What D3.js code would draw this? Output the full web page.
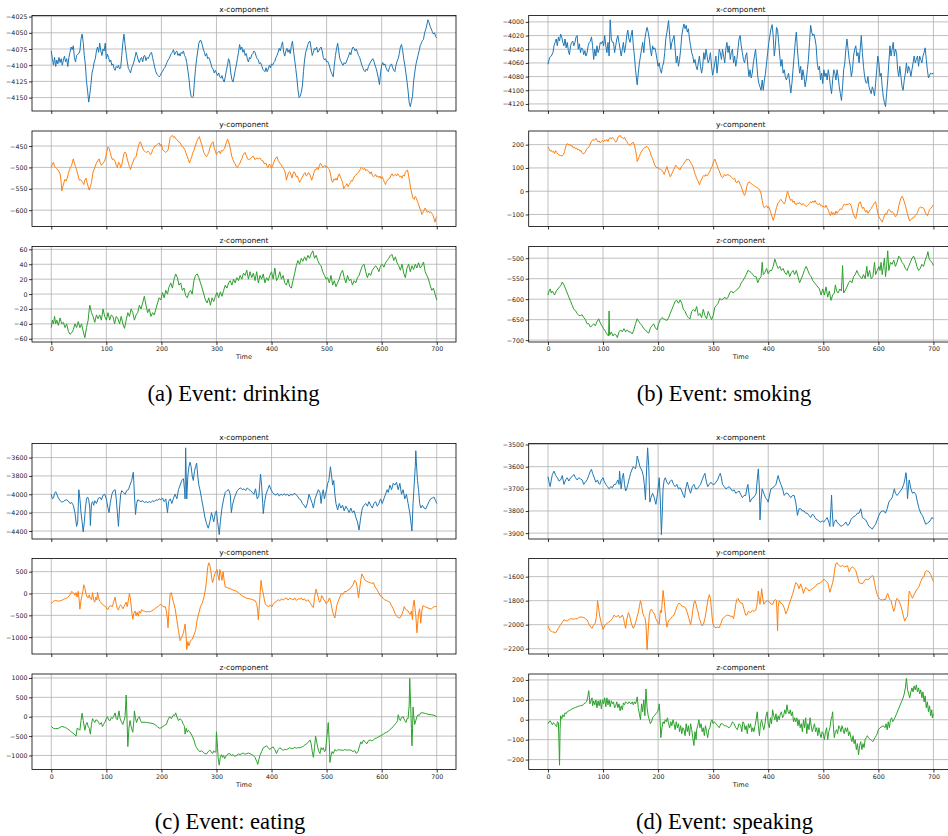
<!DOCTYPE html>
<html>
<head>
<meta charset="utf-8">
<script src="https://cdn.jsdelivr.net/npm/d3@7"></script>
<style>
  body { margin: 0; background: #fff; }
  svg { display: block; }
</style>
</head>
<body>
<svg id="fig" width="948" height="836"></svg>
<script>
// ---- tick values -------------------------------------------------------
const timeTicks = [0, 100, 200, 300, 400, 500, 600, 700];
const ticksDrinkX = [-4150, -4125, -4100, -4075, -4050, -4025];
const ticksDrinkY = [-600, -550, -500, -450];
const ticksDrinkZ = [-60, -40, -20, 0, 20, 40, 60];
const ticksSmokeX = [-4120, -4100, -4080, -4060, -4040, -4020, -4000];
const ticksSmokeY = [-100, 0, 100, 200];
const ticksSmokeZ = [-700, -650, -600, -550, -500];
const ticksEatX = [-4400, -4200, -4000, -3800, -3600];
const ticksEatY = [-1000, -500, 0, 500];
const ticksEatZ = [-1000, -500, 0, 500, 1000];
const ticksSpeakX = [-3900, -3800, -3700, -3600, -3500];
const ticksSpeakY = [-2200, -2000, -1800, -1600];
const ticksSpeakZ = [-200, -100, 0, 100, 200];

// ---- series: [time, value] -------------------------------------------
const drinkingX = [[0,-4078],[2,-4090],[4,-4100],[6,-4088],[8,-4102],[10,-4092],[12,-4098],[14,-4088],[16,-4096],[18,-4090],[20,-4100],[22,-4092],[24,-4086],[26,-4095],[28,-4090],[30,-4102],[32,-4088],[34,-4080],[36,-4072],[38,-4076],[40,-4070],[42,-4088],[44,-4095],[46,-4085],[48,-4083],[50,-4082],[52,-4078],[54,-4060],[56,-4052],[58,-4065],[60,-4085],[62,-4100],[64,-4125],[66,-4140],[68,-4157],[70,-4145],[72,-4130],[74,-4112],[76,-4105],[78,-4095],[80,-4090],[82,-4078],[84,-4072],[86,-4080],[88,-4066],[90,-4078],[92,-4085],[94,-4075],[96,-4078],[98,-4066],[100,-4090],[102,-4083],[104,-4088],[106,-4095],[108,-4092],[110,-4100],[112,-4098],[114,-4105],[116,-4108],[118,-4102],[120,-4104],[122,-4100],[124,-4106],[126,-4104],[128,-4085],[130,-4065],[132,-4052],[134,-4068],[136,-4082],[138,-4095],[140,-4105],[142,-4108],[144,-4112],[146,-4104],[148,-4100],[150,-4095],[152,-4088],[154,-4080],[156,-4085],[158,-4092],[160,-4096],[162,-4090],[164,-4088],[166,-4095],[168,-4086],[170,-4085],[172,-4093],[174,-4088],[176,-4090],[178,-4086],[180,-4082],[182,-4080],[184,-4088],[186,-4096],[188,-4104],[190,-4110],[192,-4114],[194,-4116],[196,-4118],[198,-4116],[200,-4112],[202,-4110],[204,-4106],[206,-4104],[208,-4100],[210,-4096],[212,-4092],[214,-4090],[216,-4086],[218,-4082],[220,-4080],[222,-4076],[224,-4084],[226,-4080],[228,-4078],[230,-4085],[232,-4082],[234,-4086],[236,-4080],[238,-4082],[240,-4078],[242,-4085],[244,-4088],[246,-4096],[248,-4108],[250,-4120],[252,-4138],[254,-4148],[256,-4150],[258,-4148],[260,-4125],[262,-4105],[264,-4090],[266,-4078],[268,-4066],[270,-4062],[272,-4062],[274,-4068],[276,-4075],[278,-4080],[280,-4086],[282,-4082],[284,-4090],[286,-4088],[288,-4092],[290,-4098],[292,-4104],[294,-4106],[296,-4112],[298,-4108],[300,-4112],[302,-4116],[304,-4112],[306,-4118],[308,-4120],[310,-4116],[312,-4122],[314,-4126],[316,-4118],[318,-4108],[320,-4100],[322,-4090],[324,-4095],[326,-4112],[328,-4122],[330,-4126],[332,-4118],[334,-4108],[336,-4100],[338,-4090],[340,-4080],[342,-4068],[344,-4076],[346,-4072],[348,-4080],[350,-4076],[352,-4085],[354,-4082],[356,-4090],[358,-4095],[360,-4088],[362,-4090],[364,-4084],[366,-4082],[368,-4078],[370,-4080],[372,-4086],[374,-4090],[376,-4092],[378,-4098],[380,-4096],[382,-4100],[384,-4106],[386,-4108],[388,-4110],[390,-4104],[392,-4110],[394,-4106],[396,-4100],[398,-4104],[400,-4098],[402,-4100],[404,-4096],[406,-4094],[408,-4088],[410,-4085],[412,-4080],[414,-4074],[416,-4078],[418,-4070],[420,-4064],[422,-4080],[424,-4086],[426,-4078],[428,-4074],[430,-4080],[432,-4076],[434,-4082],[436,-4070],[438,-4063],[440,-4078],[442,-4092],[444,-4105],[446,-4120],[448,-4138],[450,-4150],[452,-4148],[454,-4142],[456,-4132],[458,-4110],[460,-4092],[462,-4080],[464,-4075],[466,-4068],[468,-4064],[470,-4063],[472,-4075],[474,-4085],[476,-4080],[478,-4074],[480,-4076],[482,-4072],[484,-4080],[486,-4078],[488,-4074],[490,-4072],[492,-4078],[494,-4088],[496,-4092],[498,-4090],[500,-4095],[502,-4094],[504,-4098],[506,-4104],[508,-4110],[510,-4114],[512,-4118],[514,-4100],[516,-4085],[518,-4075],[520,-4066],[522,-4078],[524,-4090],[526,-4094],[528,-4098],[530,-4100],[532,-4096],[534,-4098],[536,-4095],[538,-4090],[540,-4086],[542,-4080],[544,-4084],[546,-4076],[548,-4072],[550,-4074],[552,-4078],[554,-4075],[556,-4080],[558,-4085],[560,-4088],[562,-4094],[564,-4100],[566,-4104],[568,-4108],[570,-4110],[572,-4106],[574,-4108],[576,-4102],[578,-4098],[580,-4095],[582,-4092],[584,-4090],[586,-4094],[588,-4100],[590,-4105],[592,-4112],[594,-4120],[596,-4130],[598,-4112],[600,-4100],[602,-4096],[604,-4100],[606,-4098],[608,-4104],[610,-4108],[612,-4110],[614,-4104],[616,-4100],[618,-4098],[620,-4104],[622,-4108],[624,-4110],[626,-4100],[628,-4094],[630,-4090],[632,-4082],[634,-4072],[636,-4068],[638,-4076],[640,-4090],[642,-4100],[644,-4112],[646,-4125],[648,-4140],[650,-4158],[652,-4164],[654,-4156],[656,-4148],[658,-4125],[660,-4112],[662,-4100],[664,-4092],[666,-4085],[668,-4078],[670,-4070],[672,-4066],[674,-4062],[676,-4060],[678,-4050],[680,-4045],[682,-4038],[684,-4030],[686,-4034],[688,-4040],[690,-4044],[692,-4048],[694,-4052],[696,-4050],[698,-4056],[700,-4058]];

const drinkingY = [[0,-500],[2,-492],[4,-488],[6,-498],[8,-500],[10,-503],[13,-507],[16,-515],[18,-535],[19,-555],[21,-545],[23,-535],[25,-528],[27,-532],[29,-525],[31,-515],[33,-505],[35,-500],[37,-495],[39,-485],[40,-480],[42,-490],[44,-498],[47,-510],[49,-520],[51,-530],[53,-528],[55,-532],[57,-535],[59,-540],[61,-530],[63,-525],[65,-535],[67,-545],[69,-553],[71,-545],[73,-535],[76,-510],[79,-500],[82,-490],[85,-483],[87,-480],[89,-490],[91,-495],[94,-490],[97,-485],[99,-475],[101,-462],[103,-452],[105,-455],[107,-465],[109,-475],[111,-482],[113,-480],[116,-486],[118,-495],[120,-500],[122,-488],[124,-490],[126,-500],[128,-495],[130,-480],[132,-468],[134,-464],[136,-468],[138,-480],[140,-490],[142,-498],[144,-505],[146,-495],[149,-485],[151,-478],[154,-475],[156,-462],[158,-452],[160,-443],[162,-440],[164,-448],[166,-455],[168,-460],[171,-464],[173,-465],[176,-462],[178,-465],[180,-470],[182,-468],[184,-458],[186,-455],[188,-450],[191,-448],[193,-446],[196,-443],[198,-450],[200,-445],[202,-458],[205,-462],[208,-465],[210,-462],[212,-460],[214,-445],[216,-430],[218,-427],[220,-425],[222,-430],[224,-428],[226,-433],[229,-436],[231,-440],[234,-442],[237,-450],[240,-453],[243,-460],[245,-468],[247,-475],[249,-482],[251,-490],[253,-482],[255,-475],[257,-466],[259,-460],[262,-448],[264,-440],[267,-432],[269,-428],[271,-438],[273,-445],[275,-455],[277,-465],[279,-470],[282,-475],[284,-470],[286,-465],[288,-455],[290,-448],[292,-442],[294,-440],[296,-455],[298,-462],[300,-470],[302,-465],[305,-462],[307,-468],[309,-460],[311,-462],[313,-458],[315,-455],[317,-445],[319,-438],[320,-434],[322,-440],[324,-450],[326,-462],[328,-475],[330,-482],[332,-488],[334,-492],[336,-498],[338,-500],[340,-495],[342,-492],[344,-485],[346,-480],[348,-472],[350,-468],[352,-465],[354,-472],[356,-478],[358,-482],[361,-480],[364,-476],[367,-474],[370,-482],[373,-478],[376,-480],[379,-478],[382,-484],[385,-485],[387,-492],[390,-490],[392,-498],[394,-500],[396,-492],[398,-495],[400,-502],[402,-496],[404,-488],[406,-482],[408,-478],[410,-475],[412,-484],[415,-490],[418,-495],[420,-500],[422,-503],[424,-508],[426,-520],[427,-530],[429,-520],[431,-512],[433,-510],[435,-516],[437,-525],[439,-515],[441,-510],[443,-514],[445,-522],[447,-520],[449,-528],[451,-535],[453,-530],[455,-525],[457,-520],[459,-515],[461,-512],[463,-520],[465,-518],[467,-512],[469,-515],[471,-522],[473,-530],[475,-522],[477,-512],[479,-505],[481,-505],[483,-500],[485,-505],[487,-495],[489,-490],[491,-495],[493,-500],[495,-498],[497,-495],[499,-500],[501,-498],[503,-502],[505,-505],[507,-515],[509,-530],[511,-535],[513,-527],[515,-530],[517,-525],[519,-530],[521,-520],[523,-515],[525,-522],[527,-528],[529,-535],[531,-550],[533,-545],[535,-542],[537,-538],[539,-545],[541,-540],[543,-536],[545,-530],[547,-532],[549,-525],[551,-520],[553,-518],[555,-515],[557,-512],[559,-510],[561,-505],[563,-500],[565,-502],[567,-505],[569,-502],[571,-508],[573,-505],[575,-508],[577,-510],[579,-515],[581,-510],[583,-518],[585,-522],[587,-520],[589,-516],[591,-522],[593,-520],[595,-524],[597,-520],[599,-526],[601,-522],[603,-528],[605,-535],[607,-540],[609,-532],[611,-530],[613,-526],[615,-525],[617,-518],[619,-515],[621,-520],[623,-518],[625,-516],[627,-520],[629,-515],[631,-518],[633,-522],[635,-520],[637,-525],[639,-518],[641,-520],[643,-512],[645,-508],[647,-506],[649,-520],[651,-535],[653,-552],[655,-562],[657,-572],[659,-575],[661,-568],[663,-572],[665,-580],[667,-586],[669,-595],[671,-600],[673,-610],[675,-605],[677,-600],[679,-595],[681,-600],[683,-605],[685,-602],[687,-606],[689,-604],[691,-608],[693,-610],[695,-620],[697,-628],[698,-620],[700,-615]];

const drinkingZ = [[0,-45],[2,-35],[4,-40],[6,-30],[8,-40],[10,-35],[13,-42],[16,-32],[19,-40],[22,-38],[25,-45],[28,-40],[31,-50],[34,-54],[37,-52],[40,-48],[43,-40],[46,-45],[49,-37],[52,-45],[55,-40],[58,-50],[61,-58.5],[64,-45],[67,-35],[69,-20],[70,-15],[73,-25],[76,-30],[79,-38],[82,-28],[85,-33],[88,-28],[91,-35],[94,-20],[97,-30],[100,-35],[103,-25],[106,-35],[109,-28],[112,-30],[115,-40],[118,-30],[121,-33],[124,-40],[127,-30],[130,-40],[133,-46],[136,-35],[139,-25],[142,-30],[145,-20],[148,-25],[151,-35],[154,-28],[157,-25],[160,-15],[163,-20],[166,-12],[169,-3],[172,-15],[175,-25],[178,-20],[181,-30],[184,-25],[187,-28],[190,-20],[193,-12],[196,-5],[199,-8],[202,2],[205,-5],[208,5],[211,0],[214,10],[217,15],[220,8],[223,20],[226,27],[229,22],[232,12],[235,15],[238,5],[241,8],[244,-2],[247,-5],[250,2],[253,5],[256,0],[259,18],[262,25],[265,27],[268,22],[271,15],[274,8],[277,0],[280,-8],[283,-12],[286,-5],[289,-15],[292,-5],[295,-10],[298,-3],[301,2],[304,-5],[307,3],[310,-3],[313,5],[316,12],[319,8],[322,15],[325,18],[328,12],[331,20],[334,15],[337,22],[340,18],[343,25],[346,20],[349,28],[352,25],[355,32],[358,20],[361,30],[364,22],[367,28],[370,18],[373,30],[376,15],[379,25],[382,20],[385,27],[388,15],[391,22],[394,18],[397,25],[400,30],[403,20],[406,35],[409,18],[412,22],[415,30],[418,20],[421,25],[424,15],[427,12],[430,20],[433,10],[436,8],[439,18],[442,28],[445,38],[448,45],[451,40],[454,48],[457,44],[460,50],[463,45],[466,52],[469,48],[472,54],[475,58],[478,48],[481,52],[484,45],[487,40],[490,38],[493,30],[496,25],[499,20],[502,22],[505,15],[508,25],[511,12],[514,18],[517,10],[520,15],[523,20],[526,28],[529,32],[532,22],[535,15],[538,25],[541,18],[544,20],[547,12],[550,18],[553,15],[556,22],[559,25],[562,32],[565,38],[568,40],[571,30],[574,22],[577,28],[580,25],[583,32],[586,35],[589,38],[592,35],[595,30],[598,38],[601,40],[604,36],[607,42],[610,45],[613,48],[616,52],[619,53],[622,45],[625,50],[628,42],[631,38],[634,32],[637,40],[640,28],[643,22],[646,35],[649,40],[652,30],[655,38],[658,33],[661,40],[664,35],[667,42],[670,35],[673,38],[676,43],[679,30],[682,25],[685,20],[688,12],[691,5],[694,8],[697,0],[700,-8]];

const smokingX = [[0,-4062],[3,-4052],[6,-4050],[9,-4045],[11,-4035],[13,-4030],[15,-4025],[17,-4035],[19,-4022],[21,-4028],[23,-4018],[25,-4022],[27,-4030],[29,-4035],[31,-4025],[33,-4038],[35,-4030],[37,-4042],[39,-4048],[41,-4035],[43,-4030],[45,-4028],[47,-4035],[49,-4030],[51,-4022],[53,-4020],[55,-4040],[57,-4032],[59,-4045],[61,-4038],[63,-4040],[65,-4048],[67,-4042],[69,-4050],[71,-4045],[73,-4035],[75,-4030],[77,-4028],[79,-4022],[81,-4035],[83,-4055],[85,-4040],[87,-4050],[89,-4035],[91,-4045],[93,-4040],[95,-4030],[97,-4032],[99,-4028],[101,-4035],[103,-4020],[105,-4035],[107,-4045],[109,-4030],[111,-4050],[113,-3997],[115,-4025],[117,-4030],[119,-4030],[121,-4045],[123,-4035],[125,-4025],[127,-4020],[129,-4030],[131,-4040],[133,-4050],[135,-4040],[137,-4030],[139,-4045],[141,-4035],[143,-4020],[145,-4012],[147,-4025],[149,-4030],[151,-4020],[153,-4012],[155,-4035],[157,-4050],[159,-4070],[161,-4085],[162,-4092],[164,-4075],[166,-4060],[168,-4050],[170,-4040],[172,-4030],[174,-4045],[176,-4025],[178,-4015],[180,-4008],[182,-4015],[184,-4025],[186,-4040],[188,-4050],[190,-4035],[192,-4040],[194,-4038],[196,-4045],[198,-4055],[200,-4065],[202,-4060],[204,-4070],[206,-4075],[208,-4065],[210,-4060],[212,-4045],[214,-4025],[216,-4015],[219,-3998],[221,-4020],[223,-4040],[225,-4030],[227,-4025],[229,-4020],[231,-4040],[233,-4060],[235,-4050],[237,-4065],[239,-4055],[241,-4040],[243,-4020],[245,-4010],[247,-4003],[249,-4010],[251,-4005],[253,-4015],[255,-4010],[257,-4025],[259,-4035],[261,-4045],[263,-4050],[265,-4060],[267,-4055],[269,-4065],[271,-4070],[273,-4060],[275,-4050],[277,-4065],[279,-4075],[281,-4065],[283,-4045],[285,-4055],[287,-4040],[289,-4050],[291,-4060],[293,-4055],[295,-4045],[297,-4065],[299,-4078],[301,-4070],[303,-4060],[305,-4050],[307,-4075],[309,-4060],[311,-4040],[313,-4045],[315,-4055],[317,-4040],[319,-4050],[321,-4060],[323,-4040],[325,-4030],[327,-4045],[329,-4035],[331,-4055],[333,-4045],[335,-4040],[337,-4060],[339,-4050],[341,-4065],[343,-4055],[345,-4040],[347,-4025],[349,-4020],[351,-4035],[353,-4045],[355,-4055],[357,-4060],[359,-4050],[361,-4045],[363,-4065],[365,-4080],[367,-4070],[369,-4082],[371,-4075],[373,-4060],[375,-4050],[377,-4040],[379,-4060],[381,-4080],[383,-4090],[385,-4095],[387,-4100],[389,-4085],[391,-4100],[393,-4085],[395,-4075],[397,-4060],[399,-4045],[401,-4030],[403,-4020],[405,-4010],[407,-4004],[409,-4020],[411,-4050],[413,-4035],[415,-4008],[417,-4012],[419,-4030],[421,-4050],[423,-4065],[425,-4055],[427,-4075],[429,-4070],[431,-4080],[433,-4085],[435,-4080],[437,-4075],[439,-4090],[441,-4104],[443,-4090],[445,-4070],[447,-4050],[449,-4030],[451,-4015],[453,-4040],[455,-4060],[457,-4075],[459,-4065],[461,-4085],[463,-4070],[465,-4080],[467,-4095],[469,-4085],[471,-4070],[473,-4055],[475,-4030],[477,-4005],[479,-4015],[481,-4020],[483,-4018],[485,-4025],[487,-4035],[489,-4060],[491,-4070],[493,-4065],[495,-4085],[497,-4075],[499,-4090],[501,-4070],[503,-4080],[505,-4075],[507,-4085],[509,-4070],[511,-4080],[513,-4095],[515,-4105],[517,-4085],[519,-4070],[521,-4075],[523,-4085],[525,-4070],[527,-4080],[529,-4095],[531,-4105],[533,-4115],[535,-4095],[537,-4070],[539,-4060],[541,-4040],[543,-4025],[545,-4040],[547,-4055],[549,-4065],[551,-4080],[553,-4070],[555,-4050],[557,-4040],[559,-4035],[561,-4050],[563,-4045],[565,-4060],[567,-4040],[569,-4020],[571,-4045],[573,-4065],[575,-4080],[577,-4088],[579,-4090],[581,-4080],[583,-4095],[585,-4100],[587,-4105],[589,-4095],[591,-4100],[593,-4108],[595,-4090],[597,-4070],[599,-4050],[601,-4060],[603,-4080],[605,-4075],[607,-4095],[609,-4110],[611,-4118],[613,-4124],[615,-4105],[617,-4085],[619,-4060],[621,-4035],[623,-4050],[625,-4040],[627,-4030],[629,-4050],[631,-4040],[633,-4045],[635,-4070],[637,-4080],[639,-4065],[641,-4080],[643,-4095],[645,-4100],[647,-4085],[649,-4075],[651,-4060],[653,-4075],[655,-4065],[657,-4070],[659,-4080],[661,-4070],[663,-4060],[665,-4050],[667,-4060],[669,-4055],[671,-4050],[673,-4065],[675,-4050],[677,-4055],[679,-4060],[681,-4050],[683,-4045],[685,-4038],[687,-4055],[689,-4070],[691,-4082],[693,-4078],[695,-4075],[697,-4076],[700,-4075]];

const smokingY = [[0,190],[2,182],[4,172],[6,176],[8,168],[10,172],[12,162],[14,174],[16,166],[18,160],[20,156],[23,153],[26,152],[28,158],[30,170],[32,190],[34,202],[36,204],[38,198],[40,200],[42,194],[44,196],[46,186],[48,190],[50,182],[52,186],[54,178],[56,180],[58,172],[60,175],[62,165],[64,160],[66,162],[68,170],[70,180],[72,186],[74,188],[76,198],[78,210],[80,218],[82,222],[84,218],[87,227],[89,220],[91,212],[93,216],[95,208],[97,214],[99,218],[101,212],[103,220],[105,216],[107,222],[109,214],[111,226],[113,230],[115,224],[117,232],[119,226],[121,218],[123,210],[125,216],[127,232],[129,236],[131,240],[133,232],[135,230],[137,226],[139,232],[141,220],[143,214],[145,205],[147,200],[149,198],[151,202],[153,208],[155,210],[157,198],[159,175],[161,150],[162,128],[164,138],[166,150],[168,162],[170,172],[172,178],[174,184],[176,188],[178,190],[180,192],[182,186],[184,178],[186,165],[188,150],[190,140],[192,125],[194,112],[196,104],[198,100],[200,102],[202,96],[204,94],[206,92],[208,86],[210,78],[211,72],[213,85],[215,100],[216,106],[218,90],[220,76],[222,62],[224,70],[226,80],[228,92],[230,100],[232,112],[234,106],[236,100],[238,96],[240,92],[242,104],[244,110],[246,115],[248,125],[250,130],[252,138],[254,135],[256,136],[258,128],[260,120],[262,112],[264,100],[266,82],[268,68],[270,55],[272,45],[274,35],[275,28],[277,40],[279,52],[281,62],[283,68],[285,64],[287,72],[289,66],[291,72],[293,80],[295,92],[297,102],[299,112],[301,128],[303,138],[305,125],[307,112],[309,96],[311,88],[313,74],[315,62],[317,58],[319,65],[321,72],[323,66],[325,70],[327,72],[329,68],[331,66],[333,60],[335,55],[337,52],[339,56],[341,40],[343,36],[345,44],[347,42],[349,30],[351,20],[353,5],[355,-10],[357,-18],[359,-5],[361,20],[363,35],[365,40],[367,38],[369,32],[371,30],[373,26],[375,22],[377,20],[379,18],[381,12],[383,10],[385,2],[387,-10],[389,-40],[391,-62],[393,-72],[395,-68],[397,-62],[399,-72],[401,-66],[403,-80],[405,-95],[407,-110],[409,-125],[411,-110],[413,-90],[415,-70],[417,-55],[419,-48],[421,-40],[423,-35],[425,-42],[427,-48],[429,-55],[431,-45],[433,-20],[435,0],[437,-15],[439,-30],[441,-40],[443,-35],[445,-48],[447,-42],[449,-55],[451,-58],[453,-50],[455,-55],[457,-48],[459,-55],[461,-60],[463,-52],[465,-58],[467,-62],[469,-65],[471,-62],[473,-58],[475,-52],[477,-45],[479,-50],[481,-42],[483,-48],[485,-40],[487,-50],[489,-55],[491,-58],[493,-52],[495,-62],[497,-60],[499,-68],[501,-65],[503,-70],[505,-60],[507,-72],[509,-80],[511,-95],[513,-105],[515,-88],[517,-100],[519,-92],[521,-100],[523,-85],[525,-95],[527,-88],[529,-82],[531,-75],[533,-80],[535,-70],[537,-58],[539,-56],[541,-60],[543,-55],[545,-58],[547,-52],[549,-55],[551,-65],[553,-85],[555,-100],[557,-112],[559,-118],[561,-95],[563,-70],[565,-50],[567,-45],[569,-60],[571,-75],[573,-68],[575,-80],[577,-90],[579,-82],[581,-95],[583,-88],[585,-80],[587,-75],[589,-65],[591,-58],[593,-50],[595,-45],[597,-70],[599,-95],[601,-110],[603,-118],[605,-125],[607,-133],[609,-118],[611,-105],[613,-95],[615,-100],[617,-85],[619,-78],[621,-82],[623,-90],[625,-88],[627,-92],[629,-100],[631,-110],[633,-105],[635,-90],[637,-65],[639,-45],[641,-30],[643,-22],[645,-30],[647,-45],[649,-60],[651,-80],[653,-100],[655,-115],[657,-128],[659,-122],[661,-118],[663,-115],[665,-112],[667,-105],[669,-100],[671,-92],[673,-78],[675,-70],[677,-68],[679,-72],[681,-70],[683,-76],[685,-90],[687,-100],[689,-105],[691,-92],[693,-80],[695,-75],[697,-68],[699,-62],[700,-58]];

const smokingZ = [[0,-590],[2,-580],[4,-575],[6,-585],[8,-580],[10,-585],[12,-590],[15,-580],[18,-575],[21,-570],[24,-565],[26,-558],[29,-565],[32,-575],[35,-585],[38,-595],[41,-605],[44,-615],[47,-625],[50,-628],[53,-635],[56,-640],[59,-640],[62,-638],[65,-645],[68,-650],[71,-660],[74,-660],[77,-668],[80,-665],[83,-660],[86,-665],[89,-655],[92,-648],[95,-658],[98,-665],[101,-672],[104,-678],[107,-685],[110,-690],[111,-629],[112,-688],[115,-680],[118,-690],[121,-685],[124,-688],[126,-694],[129,-680],[132,-675],[135,-680],[138,-672],[141,-680],[144,-675],[147,-680],[150,-680],[153,-685],[156,-675],[159,-660],[162,-648],[165,-655],[168,-660],[171,-665],[174,-672],[177,-675],[180,-680],[183,-683],[186,-670],[189,-665],[192,-660],[195,-670],[198,-675],[201,-660],[204,-650],[207,-645],[210,-648],[213,-650],[216,-652],[219,-645],[222,-635],[225,-625],[228,-615],[231,-605],[234,-603],[237,-610],[240,-602],[243,-610],[246,-625],[249,-630],[252,-640],[255,-645],[258,-648],[261,-630],[264,-625],[267,-630],[270,-618],[273,-640],[276,-635],[279,-645],[282,-625],[285,-640],[288,-648],[291,-630],[294,-640],[297,-650],[300,-640],[303,-620],[306,-615],[309,-610],[312,-598],[315,-602],[318,-600],[321,-595],[324,-600],[327,-595],[330,-585],[333,-580],[336,-585],[339,-582],[342,-578],[345,-575],[348,-570],[351,-560],[354,-555],[357,-548],[360,-540],[363,-530],[366,-532],[369,-535],[372,-540],[375,-545],[378,-545],[381,-560],[384,-550],[387,-545],[389,-510],[391,-540],[394,-535],[397,-525],[400,-538],[403,-530],[406,-530],[409,-520],[412,-502],[415,-515],[418,-525],[421,-520],[424,-530],[427,-525],[430,-535],[433,-540],[436,-530],[439,-545],[442,-535],[445,-530],[448,-540],[451,-530],[454,-545],[457,-560],[460,-550],[463,-540],[466,-528],[469,-520],[472,-530],[475,-540],[478,-545],[481,-555],[484,-560],[487,-565],[490,-570],[493,-575],[496,-590],[499,-575],[502,-590],[505,-570],[508,-595],[511,-580],[514,-603],[517,-590],[520,-585],[522,-565],[524,-580],[527,-585],[530,-575],[533,-580],[535,-518],[537,-585],[540,-578],[543,-570],[546,-560],[549,-555],[552,-560],[555,-545],[558,-540],[561,-530],[564,-540],[567,-545],[570,-550],[573,-540],[576,-550],[579,-520],[581,-545],[584,-530],[587,-550],[590,-545],[593,-510],[595,-540],[598,-530],[601,-520],[603,-530],[605,-510],[607,-540],[609,-520],[611,-500],[613,-545],[615,-520],[617,-482],[619,-530],[622,-510],[625,-515],[628,-505],[631,-520],[634,-510],[637,-495],[640,-500],[643,-510],[646,-515],[649,-525],[652,-530],[655,-520],[658,-510],[661,-500],[664,-495],[667,-505],[670,-520],[673,-530],[676,-525],[679,-515],[682,-520],[685,-505],[688,-495],[690,-484],[692,-500],[694,-505],[697,-510],[700,-518]];

const eatingX = [[0,-4000],[2,-4050],[4,-4040],[6,-3990],[8,-3972],[10,-4000],[13,-4040],[16,-4070],[19,-4085],[22,-4080],[25,-4065],[28,-4060],[31,-4075],[34,-4100],[37,-4090],[40,-4120],[43,-4200],[46,-4350],[48,-4300],[50,-3950],[52,-4050],[54,-4200],[56,-4300],[58,-4410],[60,-4300],[62,-4150],[64,-4050],[66,-4030],[68,-4060],[70,-4150],[71,-4340],[73,-4100],[75,-4080],[77,-4120],[79,-4070],[82,-4100],[85,-4050],[88,-4030],[91,-4060],[94,-4010],[97,-4000],[100,-4050],[103,-4150],[105,-4200],[107,-4100],[110,-4000],[113,-3960],[116,-3950],[118,-4050],[120,-4200],[122,-4350],[124,-4150],[126,-4000],[128,-3960],[131,-3980],[134,-4000],[137,-3960],[140,-3950],[143,-3900],[146,-3850],[149,-3760],[151,-4000],[153,-4220],[155,-4100],[157,-4060],[160,-4070],[163,-4080],[166,-4070],[169,-4090],[172,-4080],[175,-4090],[178,-4080],[181,-4090],[184,-4070],[187,-4080],[190,-4060],[193,-4065],[196,-4050],[199,-4060],[202,-4040],[205,-4080],[208,-4050],[211,-4200],[213,-4080],[216,-4050],[219,-4100],[222,-4040],[225,-4000],[228,-4050],[231,-3950],[234,-3900],[237,-3850],[240,-3830],[242,-3950],[243,-4050],[244,-3494],[246,-4050],[248,-3800],[250,-3700],[252,-3650],[254,-3700],[256,-3800],[258,-3850],[260,-3750],[262,-3700],[264,-3660],[266,-3800],[268,-3900],[270,-3950],[273,-4050],[276,-4150],[279,-4250],[282,-4320],[285,-4370],[288,-4300],[291,-4200],[293,-4250],[295,-4300],[298,-4200],[300,-4180],[302,-4300],[304,-4380],[305,-4440],[307,-4300],[310,-4150],[313,-4050],[316,-3980],[319,-3960],[322,-3950],[325,-4000],[327,-4200],[329,-4120],[332,-4050],[335,-4000],[338,-3960],[341,-3940],[344,-3930],[347,-3950],[350,-3940],[353,-3960],[356,-3930],[359,-3950],[362,-3960],[365,-3980],[368,-4000],[371,-3940],[374,-4050],[377,-4020],[380,-3780],[382,-3900],[384,-4100],[385,-4210],[387,-4100],[390,-4000],[393,-3950],[396,-3900],[399,-3950],[402,-3980],[405,-4000],[408,-4010],[411,-3990],[414,-4020],[417,-4000],[420,-4010],[423,-3995],[426,-4010],[429,-4000],[432,-4020],[435,-4000],[438,-4010],[441,-3990],[444,-4000],[447,-4020],[450,-4050],[453,-4060],[456,-4100],[459,-4120],[462,-4150],[465,-4100],[468,-4000],[471,-4050],[474,-4100],[476,-4150],[479,-4050],[482,-4000],[485,-3950],[488,-3980],[490,-4100],[492,-4000],[494,-3950],[496,-4050],[498,-4000],[500,-3950],[502,-3880],[504,-3850],[507,-3700],[509,-3800],[511,-3900],[513,-3850],[515,-4000],[517,-4100],[520,-4170],[523,-4100],[526,-4150],[529,-4120],[532,-4180],[535,-4130],[538,-4160],[541,-4200],[544,-4150],[547,-4200],[550,-4180],[553,-4250],[556,-4300],[559,-4390],[562,-4250],[565,-4150],[568,-4120],[571,-4100],[574,-4130],[577,-4080],[580,-4120],[583,-4150],[586,-4100],[589,-4080],[592,-4130],[595,-4100],[598,-4050],[601,-4100],[604,-4050],[607,-4000],[610,-3950],[612,-3980],[615,-3900],[618,-3950],[621,-3880],[624,-3900],[627,-3870],[630,-3950],[633,-3880],[636,-4000],[639,-3950],[642,-4050],[645,-4000],[648,-4100],[651,-4200],[653,-4300],[655,-4400],[657,-4100],[659,-3900],[661,-3700],[662,-3525],[663,-3650],[665,-3850],[667,-3950],[669,-4100],[671,-4150],[674,-4120],[677,-4150],[680,-4160],[683,-4120],[686,-4080],[689,-4050],[692,-4040],[695,-4030],[698,-4070],[700,-4100]];

const eatingY = [[0,-235],[2,-200],[5,-170],[8,-160],[11,-170],[14,-175],[17,-165],[20,-150],[23,-130],[26,-115],[29,-100],[32,-60],[35,-10],[37,50],[39,30],[41,0],[43,-40],[45,20],[47,-80],[49,50],[51,-200],[52,-360],[54,-150],[56,-40],[58,100],[59,200],[61,120],[63,0],[65,-80],[67,-100],[69,-30],[71,-120],[73,-140],[75,20],[77,-150],[79,-200],[81,-80],[83,-150],[84,30],[86,-100],[88,-180],[90,-200],[93,-250],[96,-280],[99,-300],[101,-350],[103,-370],[105,-300],[108,-280],[111,-300],[113,-200],[116,-85],[118,-250],[120,-340],[122,-380],[124,-300],[126,-260],[128,-300],[130,-350],[132,-300],[134,-250],[136,-200],[138,-300],[140,-150],[142,0],[144,-150],[146,-400],[148,-590],[150,-450],[152,-400],[154,-500],[156,-430],[158,-520],[160,-400],[162,-450],[164,-370],[167,-400],[170,-410],[173,-420],[176,-415],[179,-420],[182,-400],[185,-380],[188,-350],[191,-320],[194,-300],[197,-260],[199,-250],[202,-280],[205,-310],[207,-300],[209,-400],[211,-600],[212,-784],[214,-300],[216,0],[218,20],[220,-100],[222,-200],[225,-350],[228,-600],[231,-850],[234,-1080],[237,-1000],[240,-900],[243,-700],[245,-1000],[246,-1286],[248,-1100],[250,-1200],[253,-1080],[256,-1050],[259,-950],[262,-850],[265,-600],[268,-450],[271,-300],[274,-230],[277,-100],[280,100],[282,300],[284,600],[286,702],[288,650],[290,500],[292,300],[293,250],[295,350],[297,450],[299,500],[301,550],[303,400],[305,300],[306,550],[308,450],[310,300],[312,500],[314,300],[316,150],[320,130],[325,110],[330,80],[335,60],[340,20],[345,-40],[350,-80],[355,-110],[360,-120],[365,-140],[370,-160],[373,-230],[375,-400],[376,-600],[378,-250],[380,150],[381,300],[383,100],[385,0],[387,-150],[389,-250],[392,-280],[395,-300],[398,-260],[400,-310],[403,-250],[406,-200],[409,-180],[412,-140],[415,-170],[418,-120],[421,-150],[424,-120],[427,-100],[430,-150],[433,-110],[436,-120],[439,-150],[442,-100],[445,-160],[448,-120],[451,-130],[454,-100],[457,-150],[460,-120],[463,-180],[466,-140],[469,-200],[472,-250],[474,-300],[476,-320],[478,-100],[480,50],[481,100],[483,0],[485,-100],[487,-200],[489,-180],[491,-50],[493,-80],[495,-150],[497,-170],[499,-230],[501,-200],[503,-180],[505,-100],[507,-150],[509,-300],[511,-420],[513,-500],[515,-560],[517,-400],[519,-250],[521,-180],[524,-80],[527,0],[530,-20],[533,50],[536,40],[539,80],[542,100],[545,150],[548,200],[551,300],[554,250],[556,100],[558,-100],[560,100],[562,300],[564,450],[566,400],[568,350],[570,300],[573,280],[576,260],[579,250],[582,230],[585,250],[588,150],[591,100],[594,30],[597,-50],[600,-60],[603,-120],[606,-150],[609,-160],[612,-180],[615,-200],[618,-280],[621,-350],[624,-450],[627,-520],[630,-550],[633,-560],[636,-500],[639,-400],[641,-300],[643,-350],[645,-380],[648,-400],[650,-450],[652,-480],[654,-400],[656,-600],[657,-300],[659,-150],[661,-400],[662,-500],[664,-900],[666,-600],[667,-450],[669,-350],[671,-680],[673,-400],[675,-280],[678,-300],[682,-320],[686,-340],[690,-360],[693,-320],[696,-300],[700,-300]];

const eatingZ = [[0,-250],[4,-300],[8,-310],[13,-300],[19,-250],[24,-270],[28,-300],[33,-350],[37,-400],[41,-440],[45,-500],[47,-300],[50,-320],[52,-350],[54,-100],[56,90],[58,-100],[61,-350],[63,-200],[65,-150],[67,-250],[69,-300],[71,-450],[73,-200],[75,-50],[77,-100],[79,-150],[81,-80],[84,-100],[86,-150],[88,-200],[91,-150],[93,-250],[95,-200],[97,-150],[100,-50],[102,0],[104,-80],[107,-100],[109,-20],[111,-50],[113,0],[116,100],[118,-50],[120,-80],[123,150],[125,-50],[128,-150],[130,-200],[132,-100],[134,0],[136,560],[137,200],[139,-770],[141,-300],[143,-100],[145,-250],[148,-400],[150,-100],[151,150],[153,-50],[155,-150],[157,-50],[160,0],[162,-100],[164,-150],[168,-140],[173,-150],[178,-160],[183,-170],[188,-200],[193,-260],[197,-300],[200,-280],[203,-250],[206,-220],[209,-200],[212,-80],[215,0],[218,-50],[222,50],[224,30],[226,100],[228,0],[231,-100],[234,-50],[237,-100],[240,-200],[242,-250],[243,-450],[245,-300],[247,-400],[249,-350],[251,-380],[253,-420],[256,-500],[259,-600],[262,-750],[264,-800],[267,-870],[270,-900],[273,-880],[276,-920],[279,-950],[282,-960],[285,-900],[288,-860],[290,-900],[293,-950],[295,-880],[297,-920],[299,-900],[300,-390],[302,-800],[303,-1050],[305,-1250],[307,-1050],[309,-980],[311,-1050],[313,-1000],[315,-1080],[318,-1000],[321,-960],[324,-950],[327,-1000],[330,-980],[333,-1020],[337,-1000],[340,-960],[343,-980],[346,-950],[349,-940],[352,-970],[355,-950],[358,-940],[361,-950],[364,-980],[367,-1000],[370,-1050],[373,-1150],[375,-1230],[377,-1100],[379,-1000],[382,-900],[385,-800],[388,-780],[391,-750],[394,-800],[397,-850],[400,-800],[403,-780],[406,-850],[409,-950],[412,-850],[415,-800],[418,-830],[421,-870],[424,-840],[427,-850],[430,-830],[433,-800],[436,-820],[439,-820],[442,-790],[445,-810],[448,-800],[452,-800],[455,-780],[458,-760],[461,-720],[464,-700],[467,-650],[470,-600],[472,-700],[474,-900],[476,-1050],[478,-800],[480,-500],[482,-650],[484,-800],[486,-900],[488,-950],[490,-800],[492,-850],[494,-800],[496,-900],[498,-880],[500,-600],[502,-300],[503,-150],[505,-700],[506,-1180],[508,-1000],[510,-900],[512,-950],[515,-850],[518,-880],[521,-850],[524,-860],[527,-860],[530,-870],[533,-850],[536,-860],[540,-860],[544,-860],[548,-900],[551,-870],[554,-950],[557,-900],[560,-750],[562,-650],[564,-700],[567,-600],[570,-650],[573,-700],[576,-620],[579,-600],[582,-620],[585,-600],[588,-560],[591,-550],[594,-520],[597,-500],[600,-480],[603,-450],[606,-420],[609,-400],[612,-380],[615,-330],[618,-300],[621,-250],[624,-200],[627,-150],[629,-100],[630,50],[632,-50],[634,-100],[636,-20],[639,0],[642,-100],[644,-150],[646,-50],[648,-50],[650,300],[651,990],[652,600],[654,-300],[655,-750],[656,-400],[657,250],[658,50],[660,-200],[662,-100],[664,0],[666,50],[668,30],[671,100],[675,100],[680,80],[685,60],[690,50],[695,40],[700,0]];

const speakingX = [[0,-3645],[2,-3670],[4,-3690],[6,-3660],[8,-3635],[11,-3620],[14,-3640],[17,-3650],[20,-3665],[23,-3660],[26,-3640],[29,-3680],[32,-3660],[35,-3650],[38,-3665],[41,-3650],[44,-3645],[47,-3635],[50,-3650],[53,-3660],[56,-3650],[59,-3655],[62,-3660],[65,-3680],[68,-3670],[71,-3660],[74,-3640],[77,-3620],[79,-3612],[81,-3630],[84,-3650],[87,-3670],[90,-3660],[92,-3675],[94,-3680],[97,-3660],[100,-3650],[102,-3665],[105,-3680],[108,-3690],[111,-3700],[114,-3690],[117,-3695],[120,-3680],[123,-3680],[125,-3670],[127,-3660],[129,-3680],[130,-3620],[132,-3680],[133,-3700],[135,-3650],[137,-3630],[139,-3680],[141,-3710],[143,-3700],[145,-3680],[148,-3650],[150,-3630],[153,-3610],[155,-3600],[157,-3605],[159,-3610],[161,-3580],[162,-3552],[164,-3570],[167,-3600],[169,-3610],[171,-3620],[173,-3640],[175,-3680],[177,-3750],[179,-3620],[181,-3515],[183,-3600],[185,-3760],[187,-3740],[190,-3720],[193,-3740],[196,-3770],[199,-3720],[202,-3650],[204,-3750],[206,-3907],[208,-3780],[209,-3700],[211,-3660],[213,-3650],[216,-3670],[219,-3680],[222,-3665],[225,-3660],[228,-3680],[231,-3690],[234,-3680],[237,-3700],[240,-3695],[243,-3710],[246,-3730],[248,-3740],[250,-3700],[253,-3670],[256,-3700],[259,-3720],[262,-3690],[265,-3680],[268,-3700],[271,-3700],[274,-3690],[277,-3680],[280,-3660],[283,-3640],[285,-3630],[287,-3660],[290,-3690],[293,-3680],[296,-3670],[299,-3680],[302,-3680],[305,-3670],[308,-3660],[311,-3640],[313,-3630],[315,-3650],[317,-3680],[320,-3690],[323,-3700],[326,-3695],[329,-3690],[332,-3700],[335,-3710],[338,-3705],[341,-3720],[344,-3715],[347,-3710],[350,-3725],[353,-3740],[356,-3730],[359,-3730],[361,-3700],[363,-3680],[365,-3720],[367,-3760],[370,-3745],[373,-3740],[376,-3730],[378,-3720],[380,-3660],[382,-3610],[384,-3700],[385,-3840],[387,-3750],[389,-3700],[392,-3720],[395,-3740],[398,-3750],[400,-3760],[403,-3720],[405,-3700],[408,-3695],[411,-3690],[414,-3680],[416,-3660],[418,-3640],[420,-3660],[423,-3680],[426,-3700],[429,-3730],[432,-3720],[435,-3720],[438,-3730],[441,-3740],[444,-3730],[447,-3730],[450,-3760],[453,-3820],[456,-3790],[459,-3790],[462,-3800],[465,-3800],[468,-3810],[471,-3810],[474,-3820],[477,-3830],[480,-3815],[483,-3820],[486,-3835],[489,-3840],[492,-3845],[495,-3850],[498,-3845],[501,-3850],[504,-3840],[507,-3830],[510,-3850],[512,-3870],[514,-3780],[515,-3728],[516,-3790],[518,-3870],[520,-3850],[523,-3840],[526,-3855],[529,-3860],[532,-3870],[535,-3865],[538,-3860],[541,-3850],[544,-3865],[547,-3860],[550,-3840],[553,-3830],[556,-3825],[559,-3820],[562,-3810],[565,-3810],[568,-3790],[571,-3830],[574,-3835],[577,-3840],[580,-3855],[583,-3870],[586,-3875],[589,-3882],[592,-3870],[595,-3860],[598,-3840],[601,-3820],[604,-3805],[607,-3800],[610,-3800],[613,-3810],[616,-3790],[619,-3760],[622,-3750],[625,-3740],[627,-3720],[629,-3700],[631,-3720],[634,-3730],[637,-3720],[640,-3710],[643,-3700],[646,-3680],[648,-3660],[650,-3627],[651,-3640],[653,-3745],[655,-3680],[656,-3660],[659,-3700],[662,-3720],[665,-3715],[668,-3725],[671,-3760],[674,-3790],[677,-3810],[680,-3820],[683,-3840],[686,-3860],[689,-3855],[692,-3850],[695,-3840],[697,-3830],[700,-3835]];

const speakingY = [[0,-2010],[2,-2030],[4,-2050],[6,-2055],[8,-2060],[11,-2062],[14,-2068],[17,-2045],[20,-2020],[23,-2000],[26,-1980],[29,-1960],[32,-1965],[35,-1970],[38,-1958],[41,-1950],[44,-1952],[47,-1955],[50,-1950],[53,-1952],[56,-1940],[59,-1935],[62,-1938],[65,-1940],[68,-1950],[71,-1960],[73,-1980],[75,-2000],[78,-2020],[80,-2030],[82,-2010],[84,-2000],[86,-1985],[88,-1930],[89,-1880],[90,-1800],[92,-1860],[94,-1930],[97,-1990],[100,-2040],[102,-2020],[104,-2000],[107,-1990],[110,-1980],[113,-1970],[115,-1960],[118,-1940],[120,-1920],[122,-1930],[125,-1935],[128,-1920],[130,-1940],[133,-1935],[135,-1920],[137,-1940],[139,-1990],[141,-2030],[143,-1960],[146,-1900],[148,-1920],[150,-1960],[152,-2000],[155,-2030],[158,-2000],[160,-1970],[162,-1930],[164,-1900],[166,-1850],[168,-1800],[170,-1840],[172,-1900],[174,-1930],[176,-1940],[178,-2000],[180,-2208],[182,-2050],[184,-1920],[186,-1880],[188,-1870],[190,-1890],[192,-1900],[194,-1920],[196,-1950],[198,-1970],[200,-1990],[202,-2000],[204,-1880],[206,-1900],[208,-1780],[209,-1715],[211,-1800],[213,-1900],[215,-1990],[216,-2020],[218,-1980],[220,-1960],[223,-1950],[226,-1930],[229,-1920],[232,-1880],[235,-1840],[238,-1820],[241,-1830],[244,-1850],[247,-1850],[250,-1860],[253,-1900],[256,-1950],[259,-2000],[261,-1950],[263,-1880],[265,-1820],[267,-1800],[269,-1830],[271,-1870],[273,-1900],[275,-1950],[278,-1990],[280,-2010],[282,-2000],[285,-1950],[288,-1870],[290,-1800],[293,-1750],[295,-1780],[297,-1880],[299,-1980],[302,-2020],[305,-2025],[308,-2020],[311,-2025],[314,-1990],[317,-1950],[320,-1940],[323,-1925],[326,-1920],[329,-1925],[332,-1930],[335,-1930],[337,-1950],[339,-1900],[341,-1830],[343,-1790],[345,-1780],[347,-1800],[350,-1820],[353,-1820],[356,-1870],[359,-1920],[361,-1920],[364,-1890],[368,-1900],[371,-1880],[374,-1890],[377,-1880],[379,-1850],[381,-1780],[382,-1720],[384,-1800],[385,-1830],[387,-1760],[388,-1700],[390,-1780],[392,-1830],[395,-1810],[399,-1800],[402,-1810],[405,-1830],[408,-1830],[411,-1800],[413,-1790],[415,-1800],[416,-1920],[417,-2050],[418,-1850],[420,-1800],[423,-1820],[426,-1830],[429,-1860],[432,-1910],[435,-1880],[438,-1830],[441,-1790],[444,-1750],[447,-1700],[450,-1650],[453,-1660],[456,-1700],[459,-1660],[462,-1700],[464,-1740],[466,-1710],[468,-1690],[471,-1700],[474,-1720],[477,-1710],[480,-1700],[483,-1690],[486,-1680],[489,-1660],[492,-1660],[495,-1650],[498,-1640],[501,-1620],[504,-1635],[508,-1650],[510,-1690],[512,-1730],[514,-1700],[517,-1650],[519,-1600],[521,-1530],[523,-1490],[525,-1485],[527,-1500],[529,-1510],[532,-1515],[535,-1505],[538,-1520],[541,-1515],[544,-1510],[547,-1560],[550,-1530],[553,-1520],[556,-1530],[559,-1550],[562,-1600],[565,-1650],[568,-1655],[571,-1660],[574,-1640],[577,-1620],[580,-1625],[583,-1620],[586,-1605],[589,-1590],[591,-1600],[593,-1650],[595,-1700],[598,-1750],[601,-1780],[604,-1790],[607,-1795],[610,-1790],[613,-1790],[615,-1760],[617,-1740],[619,-1770],[621,-1790],[623,-1800],[625,-1840],[628,-1890],[630,-1860],[632,-1800],[634,-1780],[636,-1790],[638,-1810],[640,-1830],[643,-1880],[646,-1940],[648,-1970],[650,-1950],[653,-1930],[655,-1780],[656,-1720],[658,-1740],[660,-1760],[662,-1780],[665,-1750],[668,-1720],[671,-1700],[674,-1680],[677,-1640],[680,-1610],[683,-1600],[685,-1560],[687,-1550],[690,-1555],[692,-1560],[695,-1580],[698,-1620],[700,-1640]];

const speakingZ = [[0,-20],[2,-10],[4,-5],[6,-15],[8,-25],[10,-15],[12,-20],[14,-30],[16,-35],[17,-10],[19,-15],[21,-228],[22,-50],[23,20],[25,5],[27,25],[29,15],[31,35],[33,30],[35,40],[38,45],[41,50],[44,55],[47,58],[50,62],[53,65],[56,68],[59,72],[62,70],[65,80],[68,85],[70,90],[72,110],[74,146],[75,120],[76,80],[78,95],[80,110],[81,70],[83,95],[85,75],[87,100],[89,60],[91,95],[93,70],[95,100],[97,55],[99,100],[101,80],[103,110],[105,65],[107,110],[109,75],[111,100],[113,65],[115,95],[117,80],[119,90],[121,60],[123,70],[125,90],[127,60],[129,80],[131,45],[133,70],[135,50],[137,85],[139,75],[141,90],[143,85],[145,80],[147,90],[149,85],[151,80],[153,90],[155,75],[157,90],[159,80],[161,100],[162,115],[164,60],[166,30],[168,0],[170,80],[172,40],[174,100],[176,20],[178,155],[180,60],[182,20],[184,0],[186,-20],[188,-10],[190,10],[193,20],[196,30],[199,40],[201,60],[202,80],[203,40],[204,-30],[205,-90],[207,-40],[209,-10],[211,-20],[213,0],[215,-10],[217,10],[219,-20],[221,-40],[223,-10],[225,-30],[227,0],[229,-20],[231,-50],[233,-10],[235,-40],[237,-20],[239,-60],[241,-30],[243,-70],[245,-40],[247,-50],[249,-80],[251,-20],[253,-60],[255,-30],[257,-80],[259,-20],[261,-50],[263,-90],[265,-129],[267,-60],[269,-100],[270,-50],[272,-30],[274,0],[276,-40],[278,-20],[280,-60],[282,-40],[284,-80],[286,-30],[288,-60],[290,-90],[292,-50],[294,-40],[296,-10],[298,0],[300,-20],[302,-10],[305,-20],[308,-30],[311,-40],[314,-20],[317,-20],[320,-30],[323,-30],[326,-35],[329,-40],[332,-30],[335,-10],[338,-20],[341,-40],[344,-50],[347,-20],[350,-30],[352,-60],[354,-10],[356,-20],[358,-50],[360,-30],[362,-70],[364,-20],[366,-40],[368,-20],[370,-60],[372,-40],[374,-60],[376,-30],[378,0],[380,40],[382,-30],[384,-80],[386,-20],[388,0],[390,-30],[392,-50],[394,-20],[396,20],[398,40],[400,-20],[402,-40],[404,10],[406,-20],[408,50],[410,20],[412,0],[414,30],[416,-10],[418,20],[420,0],[422,30],[424,40],[426,10],[428,20],[430,50],[432,30],[434,75],[436,40],[438,30],[440,50],[442,20],[444,40],[446,-10],[448,10],[450,-10],[452,10],[454,-30],[456,0],[458,-40],[460,-20],[462,-60],[464,0],[466,-40],[468,10],[470,-70],[472,-20],[474,-50],[476,10],[478,-30],[480,-60],[482,-40],[484,-20],[486,-60],[488,-40],[490,-80],[492,-40],[494,-70],[496,-90],[498,-60],[500,-70],[502,-100],[504,-60],[506,-40],[508,-100],[510,-60],[512,-40],[514,0],[516,20],[517,40],[518,-20],[520,-90],[522,-60],[524,-50],[526,-70],[528,-30],[530,-40],[532,-60],[534,-30],[536,-50],[538,-70],[540,-40],[542,-60],[544,-40],[546,-80],[548,-60],[550,-90],[552,-110],[554,-80],[556,-120],[558,-100],[560,-150],[562,-120],[564,-176],[566,-130],[568,-110],[570,-150],[572,-120],[574,-140],[576,-100],[578,-90],[580,-80],[582,-90],[584,-95],[586,-100],[588,-105],[590,-110],[592,-100],[594,-90],[596,-80],[598,-70],[600,-50],[603,-40],[606,-35],[609,-30],[612,-40],[614,-20],[616,-50],[618,-10],[620,-40],[622,0],[624,10],[626,-10],[628,0],[630,10],[633,30],[636,50],[639,70],[642,90],[645,110],[647,130],[649,160],[651,208],[653,150],[655,130],[657,110],[659,140],[661,160],[663,140],[665,170],[667,150],[669,175],[671,140],[673,160],[675,130],[677,150],[679,110],[681,140],[683,90],[685,120],[687,60],[689,90],[691,40],[693,70],[695,20],[697,50],[698,10],[700,30]];

// ---- layout ------------------------------------------------------------
const componentNames = ["x-component", "y-component", "z-component"];
const componentColors = ["#1f77b4", "#ff7f0e", "#2ca02c"];
const AX_W = 424, AX_H = 95.5;

const blocks = [
  { caption: "(a) Event: drinking", left: 32,  tops: [15.5, 131, 246.5], capX: 233.5, capY: 401,
    series: [drinkingX, drinkingY, drinkingZ], yTicks: [ticksDrinkX, ticksDrinkY, ticksDrinkZ] },
  { caption: "(b) Event: smoking",  left: 528.7, tops: [15.5, 131, 246.5], capX: 724, capY: 401,
    series: [smokingX, smokingY, smokingZ], yTicks: [ticksSmokeX, ticksSmokeY, ticksSmokeZ] },
  { caption: "(c) Event: eating",   left: 32,  tops: [443.5, 558.5, 674], capX: 230, capY: 829,
    series: [eatingX, eatingY, eatingZ], yTicks: [ticksEatX, ticksEatY, ticksEatZ] },
  { caption: "(d) Event: speaking", left: 528.7, tops: [443.5, 558.5, 674], capX: 724.5, capY: 829,
    series: [speakingX, speakingY, speakingZ], yTicks: [ticksSpeakX, ticksSpeakY, ticksSpeakZ] }
];

const fmt = v => (v < 0 ? "\u2212" + Math.abs(v) : String(v));
const svg = d3.select("#fig");
const defs = svg.append("defs");
const FONT = "'DejaVu Sans', sans-serif";

blocks.forEach((b, bi) => {
  b.tops.forEach((top, k) => {
    const data = b.series[k];
    const x = d3.scaleLinear().domain([-35, 735]).range([b.left, b.left + AX_W]);
    const [lo, hi] = d3.extent(data, d => d[1]);
    const pad = (hi - lo) * 0.05;
    const y = d3.scaleLinear().domain([lo - pad, hi + pad]).range([top + AX_H, top]);
    const clipId = `clip-${bi}-${k}`;
    defs.append("clipPath").attr("id", clipId)
      .append("rect").attr("x", b.left).attr("y", top).attr("width", AX_W).attr("height", AX_H);

    const g = svg.append("g");
    const grid = g.append("g").attr("clip-path", `url(#${clipId})`)
      .attr("stroke", "#b0b0b0").attr("stroke-width", 0.8);
    grid.selectAll("line.vx").data(timeTicks).join("line").attr("class", "vx")
      .attr("x1", d => x(d)).attr("x2", d => x(d)).attr("y1", top).attr("y2", top + AX_H);
    grid.selectAll("line.hy").data(b.yTicks[k]).join("line").attr("class", "hy")
      .attr("x1", b.left).attr("x2", b.left + AX_W).attr("y1", d => y(d)).attr("y2", d => y(d));

    const line = d3.line().x(d => x(d[0])).y(d => y(d[1]));
    g.append("path").datum(data)
      .attr("clip-path", `url(#${clipId})`)
      .attr("fill", "none").attr("stroke", componentColors[k])
      .attr("stroke-width", 1).attr("stroke-linejoin", "round")
      .attr("d", line);

    // spines
    g.append("rect").attr("x", b.left).attr("y", top).attr("width", AX_W).attr("height", AX_H)
      .attr("fill", "none").attr("stroke", "#000").attr("stroke-width", 0.8);

    // y axis
    const ya = g.append("g").attr("transform", `translate(${b.left},0)`)
      .call(d3.axisLeft(y).tickValues(b.yTicks[k]).tickSize(3).tickSizeOuter(0)
        .tickPadding(1.6).tickFormat(fmt));
    ya.select(".domain").remove();
    ya.selectAll("line").attr("stroke", "#000").attr("stroke-width", 0.8);
    ya.selectAll("text").attr("font-family", FONT).attr("font-size", 6.3).attr("fill", "#222");

    // x axis
    const xa = g.append("g").attr("transform", `translate(0,${top + AX_H})`)
      .call(d3.axisBottom(x).tickValues(timeTicks).tickSize(3).tickSizeOuter(0)
        .tickPadding(2).tickFormat(k === 2 ? d => String(d) : () => ""));
    xa.select(".domain").remove();
    xa.selectAll("line").attr("stroke", "#000").attr("stroke-width", 0.8);
    xa.selectAll("text").attr("font-family", FONT).attr("font-size", 6.3).attr("fill", "#222");

    // subplot title
    g.append("text").attr("x", b.left + AX_W / 2).attr("y", top - 3.6)
      .attr("text-anchor", "middle").attr("font-family", FONT).attr("font-size", 7.5)
      .attr("fill", "#111").text(componentNames[k]);

    if (k === 2) {
      g.append("text").attr("x", b.left + AX_W / 2).attr("y", top + AX_H + 17.2)
        .attr("text-anchor", "middle").attr("font-family", FONT).attr("font-size", 6.5)
        .attr("fill", "#222").text("Time");
    }
  });

  svg.append("text").attr("x", b.capX).attr("y", b.capY)
    .attr("text-anchor", "middle")
    .attr("font-family", "'Liberation Serif', 'Times New Roman', serif")
    .attr("font-size", 22.6).attr("fill", "#000")
    .text(b.caption);
});
</script>
</body>
</html>
